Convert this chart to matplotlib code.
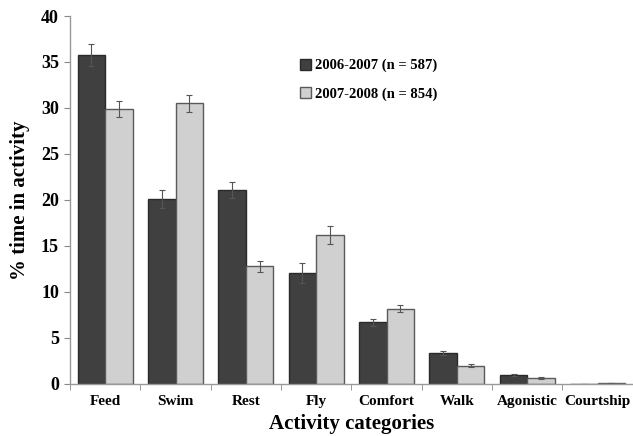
import matplotlib
matplotlib.use("Agg")
import matplotlib.pyplot as plt
import numpy as np

categories = ["Feed", "Swim", "Rest", "Fly", "Comfort", "Walk", "Agonistic", "Courtship"]
s1_label = "2006-2007 (n = 587)"
s2_label = "2007-2008 (n = 854)"
s1_vals = [35.8, 20.1, 21.1, 12.1, 6.7, 3.4, 1.0, 0.05]
s1_err = [1.2, 1.0, 0.9, 1.1, 0.4, 0.2, 0.1, 0.0]
s2_vals = [29.9, 30.5, 12.8, 16.2, 8.2, 2.0, 0.65, 0.1]
s2_err = [0.9, 0.9, 0.6, 1.0, 0.4, 0.15, 0.1, 0.02]
yticks = [0, 5, 10, 15, 20, 25, 30, 35, 40]

plt.rcParams['font.family'] = ['Liberation Serif', 'DejaVu Serif']
plt.rcParams['font.weight'] = 'bold'

fig = plt.figure(figsize=(6.33, 4.36), dpi=100)
ax = fig.add_axes([0.1106, 0.1193, 0.889, 0.844])

x = np.arange(len(categories))
w = 0.39
ekw = dict(ecolor="#555555", elinewidth=0.8, capsize=2.5, capthick=0.8)
ax.bar(x - w/2, s1_vals, w, yerr=s1_err, color="#404040", edgecolor="#2a2a2a",
       linewidth=1.0, label=s1_label, error_kw=ekw)
ax.bar(x + w/2, s2_vals, w, yerr=s2_err, color="#d0d0d0", edgecolor="#5a5a5a",
       linewidth=1.0, label=s2_label, error_kw=ekw)

ax.set_xlim(-0.5, len(categories) - 0.5)
ax.set_ylim(0, 40)
ax.set_yticks(yticks)
ax.set_xticks(x)
ax.set_xticklabels(categories, fontsize=11, fontweight='bold')
ax.tick_params(axis='x', length=0, pad=8)
ax.set_xticks(np.arange(len(categories) + 1) - 0.5, minor=True)
ax.tick_params(axis='x', which='minor', length=4, color="#888888", direction='out')
ax.tick_params(axis='y', length=4, color="#888888", labelsize=13, pad=4)
for lab in ax.get_yticklabels():
    lab.set_fontweight('bold')

for s in ['top', 'right']:
    ax.spines[s].set_visible(False)
for s in ['left', 'bottom']:
    ax.spines[s].set_color("#999999")
    ax.spines[s].set_linewidth(1.0)

ax.set_ylabel("% time in activity", fontsize=15, fontweight='bold', labelpad=8)
ax.set_xlabel("Activity categories", fontsize=15, fontweight='bold', labelpad=4)

ax.legend(loc='upper left', bbox_to_anchor=(0.385, 0.92), frameon=False,
          prop={'size': 10.5, 'weight': 'bold'}, handlelength=0.8, handleheight=0.8,
          handletextpad=0.25, labelspacing=1.0)

fig.savefig("out.png", dpi=100)
